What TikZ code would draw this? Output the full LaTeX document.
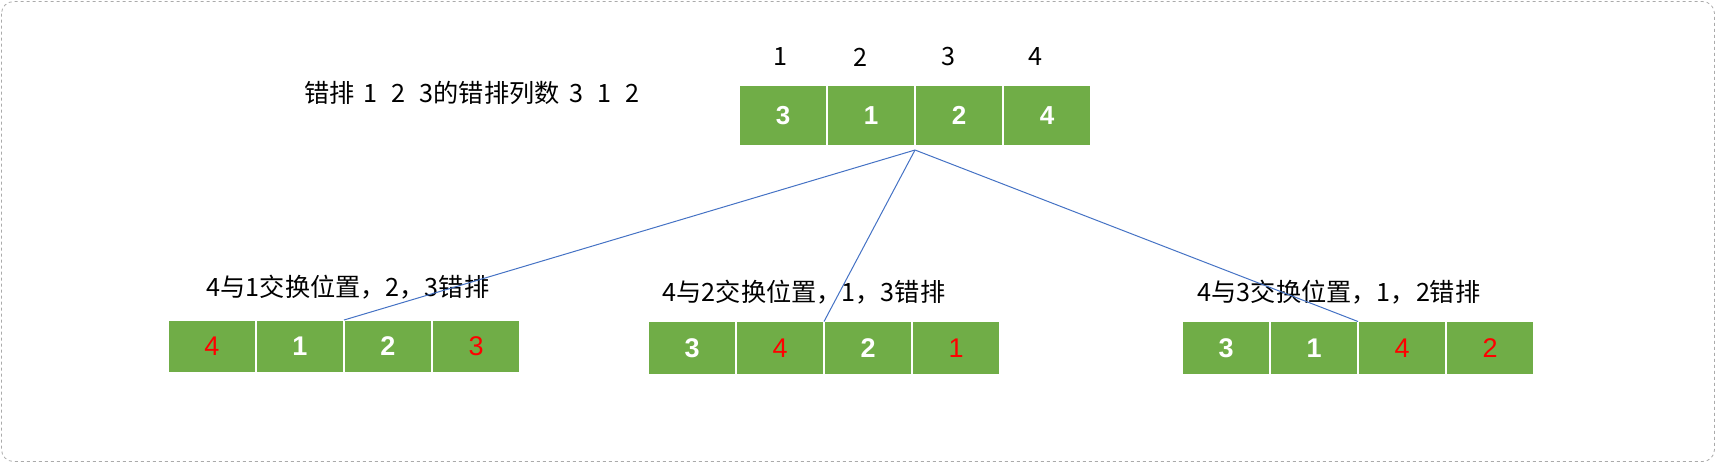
\documentclass[tikz,border=0pt]{standalone}
\usepackage{fontspec}
\setmainfont{Noto Sans CJK SC}
\newfontfamily\numfont{Liberation Sans}
\usetikzlibrary{positioning}

\definecolor{cellgreen}{HTML}{70AD47}
\definecolor{linkblue}{HTML}{4472C4}
\definecolor{framegray}{HTML}{AAAAAA}

\tikzset{
  cell/.style={draw=white, line width=0.8pt, fill=cellgreen, minimum width=44pt, minimum height=26.5pt,
    inner sep=0pt, outer sep=0pt, text=white, font=\numfont\fontsize{13.5}{14}\selectfont\bfseries},
  topcell/.style={cell, minimum height=30.5pt, font=\numfont\fontsize{13}{14}\selectfont\bfseries},
  swapped/.style={text=red, font=\numfont\fontsize{13.5}{14}\selectfont},
  caption/.style={inner sep=0pt, font=\fontsize{12.6}{14}\selectfont},
  branch/.style={draw=linkblue, line width=0.5pt}
}

\begin{document}
\begin{tikzpicture}[x=0.5pt,y=-0.5pt]
  \useasboundingbox (0,0) rectangle (1716,463);
  \draw[framegray, dash pattern=on 1.5pt off 1.5pt, rounded corners=6pt] (1.5,1.5) rectangle (1714.5,461.5);

  % derangement of 1 2 3 with 4 appended
  \node[caption] (title) at (472,93) {错排\hspace{0.36em}1\hspace{0.55em}2\hspace{0.55em}3的错排列数\hspace{0.4em}3\hspace{0.55em}1\hspace{0.55em}2};
  \node[topcell] (t1) at (783,115.5) {3};
  \node[topcell, right=0pt of t1] (t2) {1};
  \node[topcell, right=0pt of t2] (t3) {2};
  \node[topcell, right=0pt of t3] (t4) {4};
  \node[caption] (i1) at (780,57) {1};
  \node[caption] (i2) at (860,57) {2};
  \node[caption] (i3) at (948,57) {3};
  \node[caption] (i4) at (1035,57) {4};

  % swap 4 with 1
  \node[caption] (la) at (348,287) {4与1交换位置，2，3错排};
  \node[cell, swapped] (a1) at (212,346.5) {4};
  \node[cell, right=0pt of a1] (a2) {1};
  \node[cell, right=0pt of a2] (a3) {2};
  \node[cell, swapped, right=0pt of a3] (a4) {3};

  % swap 4 with 2
  \node[caption] (lb) at (804,292) {4与2交换位置，1，3错排};
  \node[cell] (b1) at (692,348) {3};
  \node[cell, swapped, right=0pt of b1] (b2) {4};
  \node[cell, right=0pt of b2] (b3) {2};
  \node[cell, swapped, right=0pt of b3] (b4) {1};

  % swap 4 with 3
  \node[caption] (lc) at (1339,292) {4与3交换位置，1，2错排};
  \node[cell] (c1) at (1226,348) {3};
  \node[cell, right=0pt of c1] (c2) {1};
  \node[cell, swapped, right=0pt of c2] (c3) {4};
  \node[cell, swapped, right=0pt of c3] (c4) {2};

  \coordinate[below=2pt of t2.south east] (root);
  \draw[branch] (root) -- (a2.north east);
  \draw[branch] (root) -- (b2.north east);
  \draw[branch] (root) -- (c2.north east);
\end{tikzpicture}
\end{document}
